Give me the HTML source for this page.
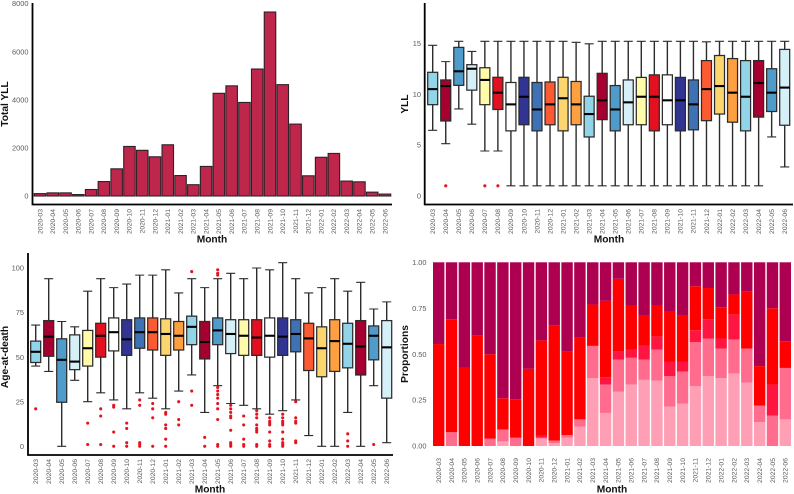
<!DOCTYPE html>
<html lang="en">
<head>
<meta charset="utf-8">
<title>YLL and age-at-death by month</title>
<style>
html,body{margin:0;padding:0;background:#fff;width:794px;height:494px;overflow:hidden}
svg{display:block;filter:blur(0.3px)}
text{font-family:"Liberation Sans",Arial,sans-serif}
.tick{font-size:6.8px;fill:#5a5a5a}
.ytick{font-size:7.4px;fill:#5a5a5a}
.title{font-size:10.2px;font-weight:bold;fill:#111}
</style>
</head>
<body>
<svg id="figure" xmlns="http://www.w3.org/2000/svg" width="794" height="494" viewBox="0 0 794 494">
  <g id="panelA"></g>
  <g id="panelB"></g>
  <g id="panelC"></g>
  <g id="panelD"></g>
</svg>
<script>
const months = ["2020-03","2020-04","2020-05","2020-06","2020-07","2020-08","2020-09","2020-10","2020-11","2020-12","2021-01","2021-02","2021-03","2021-04","2021-05","2021-06","2021-07","2021-08","2021-09","2021-10","2021-11","2021-12","2022-01","2022-02","2022-03","2022-04","2022-05","2022-06"];

const totalYll = [100,130,130,60,270,600,1130,2060,1900,1630,2130,850,470,1230,4270,4580,3890,5280,7650,4630,2990,840,1610,1770,620,590,160,80];
const totalYllTicks = [0,2000,4000,6000,8000];

const yllLow  = [6.45,5.14,8.55,7.05,4.42,4.42,1,1,1,1,1,1,1,1,1,1,1,1,1,1,1,1,1,1,1,1,5.8,2.85];
const yllQ1   = [8.97,7.37,10.87,10.4,8.97,8.5,6.4,7,6.4,7,6.4,7,5.8,7.5,6.4,7,7,6.4,7,6.4,6.5,7.4,8.05,7.25,6.4,7.75,8.3,6.95];
const yllMed  = [10.5,10.8,12.25,12.5,11.4,10.15,9,9.75,8.5,9,9.6,9,8.05,9.4,8.5,9.2,9.75,9.75,9.4,9.4,9,10.5,10.8,10.15,9.75,11.1,10.15,10.65];
const yllQ3   = [12.15,11.4,14.6,12.9,12.6,11.66,11.15,11.66,11.15,11.2,11.66,11.25,9.8,12.05,10.85,11.4,11.65,11.9,11.9,11.65,11.4,13.3,13.8,13.5,13.3,13.3,12.5,14.4];
const yllHigh = [14.8,13.2,15.2,14.2,15.2,15.2,15.2,15.2,15.2,15.2,15.2,15.1,14.95,15.2,15.2,15.2,15.2,15.2,15.2,15.2,15.2,15.15,15.2,15.2,15.2,15.2,15.2,15.2];
const yllOutliers = [[],[1],[],[],[1],[1],[],[],[],[],[],[],[],[],[],[],[],[],[],[],[],[],[],[],[],[],[],[]];
const yllTicks = [0,5,10,15];

const ageLow  = [45,42,0,37,25,30,26,21,30,27,21,31,40,19,34,24,23,21,18,20,26,6,0,0,19,0,34,2];
const ageQ1   = [47,50.5,24.7,43,45,50,53.5,51,55,54,51,54,57,49,57,52,51,51,50,51,53,42.5,39,42,44,40,48.5,27];
const ageMed  = [53,61.5,48.5,47.5,55,62,64,60,64,64,63,62,67,58.5,65,63,62,61,62,61.5,63,60.5,55,59,57.5,56,62,55.5];
const ageQ3   = [59,70.5,60.3,62.5,65,69,72,71,72,72,71.5,70,73,70,72,71,71,71,72,72,71,69,67,71,69,70.5,67.5,70.5];
const ageHigh = [68,94,70,67,87,94,89,91,96,96,99,86,94,89,94,97,94,100,99,103,94,86,89,94,87,92,77,81];
const ageOutliers = [[21],[],[],[],[13,1],[21,17,1],[23,22,8,0],[13,10,2,0],[26,23,2,1,0],[24,21,16,0],[19,18,12,10,4,0],[25,15,12],[98,31,23],[5,0],[99,97,96,33,31,29,27,24,21,15,1,0],[23,21,19,17,16,9,2,1,0],[17,12,4,1,0],[20,18,16,12,10,9,8,1,0],[16,14,13,12,8,3,1,0],[18,16,14,13,12,8,4,2,1,0],[25,16,14,13,3,2],[],[],[],[7,3,0],[],[1],[]];
const ageTicks = [0,25,50,75,100];

const propLightest = [0,0,0,0,0,.025,0,0,.04,.015,.045,.105,.37,.18,.295,.335,.36,.355,.215,.23,.325,.38,.37,.395,.345,.13,0,.145];
const propLight    = [0,.075,0,0,.04,.065,.045,0,.005,.015,.015,.04,.175,.155,.175,.145,.11,.17,.165,.175,.24,.205,.16,.185,.185,.09,.165,.28];
const propMedium   = [0,0,0,0,0,0,0,0,.01,0,0,0,0,.04,.045,.045,.075,.07,.08,.055,.065,.105,.055,.135,0,0,.17,0];
const propRed      = [.555,.615,.425,.6,.46,.17,.21,.42,.52,.625,.455,.445,.225,.415,.395,.24,.165,.17,.27,.25,.24,.17,.17,.11,.31,.215,.415,.145];
const propDark     = [.445,.31,.575,.4,.5,.74,.745,.58,.425,.345,.485,.41,.23,.21,.09,.235,.29,.235,.27,.29,.13,.14,.245,.175,.16,.565,.25,.43];
const propTicks = ["0.00","0.25","0.50","0.75","1.00"];

const boxPalette = ["#92D5E8","#A50030","#4F9CCB","#D6F0F8","#FFFBA8","#E3101F","#FFFFFF","#313492","#3F72B5","#FC5A30","#FDD56E","#FE9F40"];
const propColors = ["#FF9FB5","#FF6C8E","#FF1542","#FF0000","#AE0050"];
const propNames = ["lightest","light","medium","red","dark"];
const propSeries = [propLightest, propLight, propMedium, propRed, propDark];

const NS = "http://www.w3.org/2000/svg";
function mk(parent, tag, attrs, txt) {
  const el = document.createElementNS(NS, tag);
  for (const k in attrs) el.setAttribute(k, attrs[k]);
  if (txt !== undefined) el.textContent = txt;
  parent.appendChild(el);
  return el;
}
function linear(d0, d1, r0, r1) {
  return v => r0 + (v - d0) * (r1 - r0) / (d1 - d0);
}

function drawMonthLabels(g, x, top) {
  months.forEach((m, i) => {
    const t = mk(g, "text", {class:"tick", "text-anchor":"end", transform:`translate(${x(i)+2.3},${top}) rotate(-90)`}, m);
    
    
  });
}
function drawYTicks(g, y, ticks, right) {
  ticks.forEach(v => {
    const t = mk(g, "text", {class:"ytick", "text-anchor":"end", x:right, y:y(+v)+2.6}, v);
    
    
  });
}
function drawTitles(g, xText, xx, xy, yText, yx, yy) {
  const a = mk(g, "text", {class:"title", "text-anchor":"middle", x:xx, y:xy}, xText);
  
  
  const b = mk(g, "text", {class:"title", "text-anchor":"middle", transform:`translate(${yx},${yy}) rotate(-90)`}, yText);
  
  
}
function drawAxes(g, left, top, right, bottom) {
  const p = mk(g, "path", {d:`M${left} ${top}V${bottom}H${right}`, fill:"none", stroke:"#000", "stroke-width":1.8});
  
  
}

function drawBoxes(g, x, y, low, q1, med, q3, high, outliers) {
  const bw = 10, cap = 9;
  months.forEach((m, i) => {
    const cx = x(i);
    const box = mk(g, "g", {});
    
    
    mk(box, "path", {d:`M${cx} ${y(high[i])}V${y(q3[i])}M${cx} ${y(q1[i])}V${y(low[i])}`, stroke:"#2c2c2c", "stroke-width":1.4, fill:"none"});
    mk(box, "path", {d:`M${cx-cap/2} ${y(high[i])}H${cx+cap/2}M${cx-cap/2} ${y(low[i])}H${cx+cap/2}`, stroke:"#2c2c2c", "stroke-width":1.1, fill:"none"});
    mk(box, "rect", {x:cx-bw/2, y:y(q3[i]), width:bw, height:y(q1[i])-y(q3[i]), fill:boxPalette[i % boxPalette.length], stroke:"#2c2c2c", "stroke-width":1.25});
    mk(box, "line", {x1:cx-bw/2, x2:cx+bw/2, y1:y(med[i]), y2:y(med[i]), stroke:"#000", "stroke-width":2.1});
    outliers[i].forEach(v => {
      const d = mk(box, "circle", {cx:cx, cy:y(v), r:1.55, fill:"#E3141F"});
      
      
    });
  });
}

/* Panel A: total YLL */
(function () {
  const g = document.getElementById("panelA");
  const x = linear(0, 27, 40, 385);
  const y = linear(0, 8000, 196, 3.6);
  const zero = y(0);
  months.forEach((m, i) => {
    const top = y(totalYll[i]);
    const r = mk(g, "rect", {x:x(i)-5.75, y:top, width:11.5, height:zero-top, fill:"#BE264C", stroke:"#2e2228", "stroke-width":1.1});
    
    
  });
  drawAxes(g, 32.5, 3, 392, 204.5);
  drawYTicks(g, y, totalYllTicks, 28.5);
  drawMonthLabels(g, x, 209);
  drawTitles(g, "Month", 212, 242.5, "Total YLL", 8.2, 104);
})();

/* Panel B: YLL boxes */
(function () {
  const g = document.getElementById("panelB");
  const x = linear(0, 27, 432.7, 784.7);
  const y = linear(0, 15, 196, 43.3);
  drawBoxes(g, x, y, yllLow, yllQ1, yllMed, yllQ3, yllHigh, yllOutliers);
  drawAxes(g, 424.7, 3, 793, 204.5);
  drawYTicks(g, y, yllTicks, 421);
  drawMonthLabels(g, x, 209);
  drawTitles(g, "Month", 609, 242.5, "YLL", 408.2, 104);
})();

/* Panel C: age-at-death boxes */
(function () {
  const g = document.getElementById("panelC");
  const x = linear(0, 27, 35.7, 386.7);
  const y = linear(0, 100, 446.3, 268);
  drawBoxes(g, x, y, ageLow, ageQ1, ageMed, ageQ3, ageHigh, ageOutliers);
  drawAxes(g, 28, 253, 393, 455);
  drawYTicks(g, y, ageTicks, 24);
  drawMonthLabels(g, x, 459);
  drawTitles(g, "Month", 210, 492.5, "Age-at-death", 8, 357);
})();

/* Panel D: stacked proportions */
(function () {
  const g = document.getElementById("panelD");
  const x = linear(0, 27, 438.7, 785.3);
  const y = linear(0, 1, 446, 262.3);
  months.forEach((m, i) => {
    let acc = 0;
    propSeries.forEach((series, s) => {
      const v = series[i];
      if (v > 0) {
        const r = mk(g, "rect", {x:x(i)-5.7, y:y(acc+v), width:11.4, height:y(acc)-y(acc+v), fill:propColors[s]});
        
        
      }
      acc += v;
    });
  });
  drawYTicks(g, y, propTicks, 426.5);
  drawMonthLabels(g, x, 458);
  drawTitles(g, "Month", 612, 492.5, "Proportions", 408, 354);
})();
</script>
</body>
</html>
